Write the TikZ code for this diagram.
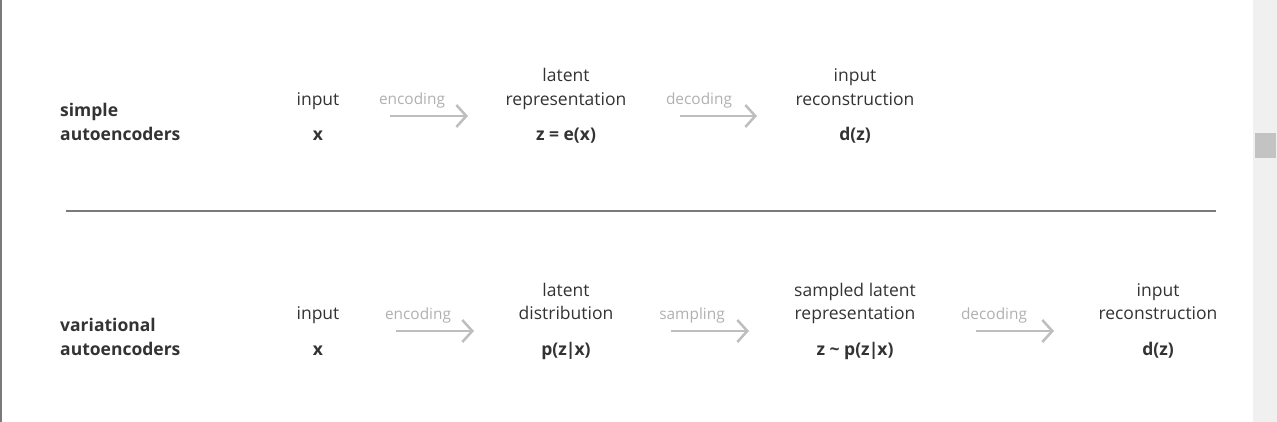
\documentclass[tikz,border=0pt]{standalone}
\usepackage{fontspec}
\setmainfont{Open Sans}
\usetikzlibrary{arrows.meta}
\definecolor{txt}{HTML}{333333}
\definecolor{lbl}{HTML}{B0B0B0}
\definecolor{arr}{HTML}{BEBEBE}
\definecolor{sep}{HTML}{7A7A7A}
\definecolor{bar}{HTML}{F0F0F0}
\definecolor{thumb}{HTML}{C3C3C3}
\tikzset{
  plain/.style={anchor=base, inner sep=0pt, text=txt, font=\fontsize{17.5}{21}\selectfont},
  boldt/.style={plain, font=\fontsize{17.5}{21}\selectfont\bfseries},
  sidet/.style={boldt, anchor=base west},
  steplbl/.style={anchor=base, inner sep=0pt, text=lbl, font=\fontsize{15.4}{18}\selectfont},
  steparrow/.style={draw=arr, line width=2.5pt, -{Straight Barb[length=10pt,width=22pt]}}
}
\begin{document}
\begin{tikzpicture}[x=1pt,y=-1pt]
\useasboundingbox (0,0) rectangle (1277,422);
% frame elements
\fill[bar] (1253,0) rectangle (1277,422);
\fill[thumb] (1255,133) rectangle (1276,158);
\draw[sep, line width=1.6pt] (0.8,0) -- (0.8,422);
\coordinate (sepL) at (66,211);
\coordinate (sepR) at (1216,211);
\draw[sep, line width=2pt] (sepL) -- (sepR);

% ---- row 1: simple autoencoders
\node[sidet] (s1a) at (60,117) {simple};
\node[sidet] (s1b) at (60,141) {autoencoders};
\node[plain] (in1) at (318,105.5) {input};
\node[boldt] (x1) at (318,141) {x};
\node[steplbl] (enc1) at (412,105) {encoding};
\coordinate (e1s) at (390,116);
\coordinate (e1e) at (468,116);
\draw[steparrow] (e1s) -- (e1e);
\node[plain] (lat1a) at (566,82) {latent};
\node[plain] (lat1b) at (566,105.5) {representation};
\node[boldt] (z1) at (566,141) {z = e(x)};
\node[steplbl] (dec1) at (699,105) {decoding};
\coordinate (d1s) at (680,116);
\coordinate (d1e) at (757,116);
\draw[steparrow] (d1s) -- (d1e);
\node[plain] (rec1a) at (855,82) {input};
\node[plain] (rec1b) at (855,105.5) {reconstruction};
\node[boldt] (dz1) at (855,141) {d(z)};

% ---- row 2: variational autoencoders
\node[sidet] (s2a) at (60,331) {variational};
\node[sidet] (s2b) at (60,355) {autoencoders};
\node[plain] (in2) at (318,319.5) {input};
\node[boldt] (x2) at (318,355) {x};
\node[steplbl] (enc2) at (418,319) {encoding};
\coordinate (e2s) at (396,331);
\coordinate (e2e) at (474,331);
\draw[steparrow] (e2s) -- (e2e);
\node[plain] (lat2a) at (566,296) {latent};
\node[plain] (lat2b) at (566,319.5) {distribution};
\node[boldt] (p2) at (566,355) {p(z\kern-1pt|\kern-1pt x)};
\node[steplbl] (smp2) at (692,319) {sampling};
\coordinate (m2s) at (671,331);
\coordinate (m2e) at (749,331);
\draw[steparrow] (m2s) -- (m2e);
\node[plain] (sl2a) at (855,296) {sampled latent};
\node[plain] (sl2b) at (855,319.5) {representation};
\node[boldt] (zs2) at (855,355) {z \char"007E{} p(z\kern-1pt|\kern-1pt x)};
\node[steplbl] (dec2) at (994,319) {decoding};
\coordinate (d2s) at (976,331);
\coordinate (d2e) at (1054,331);
\draw[steparrow] (d2s) -- (d2e);
\node[plain] (rec2a) at (1158,296) {input};
\node[plain] (rec2b) at (1158,319.5) {reconstruction};
\node[boldt] (dz2) at (1158,355) {d(z)};
\end{tikzpicture}
\end{document}
